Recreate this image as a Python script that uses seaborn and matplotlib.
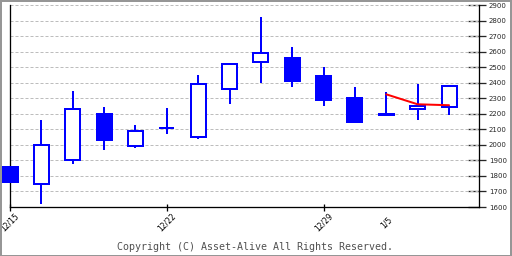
import matplotlib
matplotlib.use("Agg")
import matplotlib.pyplot as plt
import seaborn as sns
import pandas as pd
from matplotlib.patches import Rectangle

# ---- data ----
dates = ['12/15', '12/16', '12/17', '12/18', '12/19', '12/22', '12/23', '12/24',
         '12/25', '12/26', '12/29', '12/30', '1/5', '1/6', '1/7']
opens = [1855, 1750, 1900, 2200, 1990, 2110, 2050, 2360, 2530, 2560, 2440, 2300, 2200, 2230, 2245]
closes = [1760, 2000, 2230, 2030, 2090, 2110, 2390, 2520, 2590, 2410, 2290, 2150, 2190, 2250, 2380]
highs = [1855, 2160, 2345, 2245, 2125, 2235, 2450, 2520, 2820, 2630, 2500, 2370, 2340, 2390, 2380]
lows = [1760, 1620, 1875, 1970, 1980, 2070, 2040, 2260, 2400, 2370, 2250, 2140, 2190, 2160, 2195]
line_dates = ['1/5', '1/6', '1/7']
line_values = [2325, 2261, 2255]
xtick_labels = ['12/15', '12/22', '12/29', '1/5']
ytick_values = [1600, 1700, 1800, 1900, 2000, 2100, 2200, 2300, 2400, 2500, 2600, 2700, 2800, 2900]
copyright_text = "Copyright (C) Asset-Alive All Rights Reserved."

sns.set_style("white")
plt.rcParams['font.family'] = ['DejaVu Sans']
plt.rcParams['lines.scale_dashes'] = False

PX = 0.72  # points per pixel at dpi 100
W, H = 512, 256
fig = plt.figure(figsize=(W / 100, H / 100), dpi=100)
ax = fig.add_axes([10 / W, (H - 207) / H, (479 - 10) / W, (207 - 5) / H])

pos = list(range(len(dates)))
df = pd.DataFrame({'pos': pos, 'date': dates, 'open': opens, 'close': closes,
                   'high': highs, 'low': lows})
blue = '#0000ff'

# grid
for v in ytick_values[1:]:
    ax.axhline(v, color='#bdbdbd', lw=1 * PX, ls=(0, (3 * PX, 2 * PX)), zorder=1)

# wicks and bodies
for _, r in df.iterrows():
    top = max(r['open'], r['close'])
    bot = min(r['open'], r['close'])
    ax.vlines(r['pos'], top, r['high'], color=blue, lw=2 * PX, zorder=3, clip_on=False)
    ax.vlines(r['pos'], r['low'], bot, color=blue, lw=2 * PX, zorder=3, clip_on=False)
    down = r['close'] < r['open']
    ax.bar(r['pos'], top - bot, bottom=bot, width=0.48,
           color=blue if down else 'white', edgecolor=blue,
           linewidth=2 * PX, zorder=4, clip_on=False)

# red line via seaborn
ldf = pd.DataFrame({'pos': [dates.index(d) for d in line_dates], 'value': line_values})
sns.lineplot(data=ldf, x='pos', y='value', ax=ax, color='#ff0000', lw=2 * PX, zorder=5)

ax.set_xlim(0, (479 - 10) / 31.36)
ax.set_ylim(1600, 2900)
ax.set_xlabel('')
ax.set_ylabel('')

# spines
for s in ['left', 'bottom', 'right']:
    ax.spines[s].set_visible(True)
    ax.spines[s].set_color('black')
    ax.spines[s].set_linewidth(1.3 * PX)
ax.spines['top'].set_visible(False)

# x ticks
ax.set_xticks([dates.index(d) for d in xtick_labels])
ax.set_xticklabels(xtick_labels, rotation=45, ha='center', va='center', fontsize=5.5)
ax.tick_params(axis='x', direction='inout', length=7 * PX, width=1.3 * PX,
               pad=12 * PX, colors='black', bottom=True)
ax.xaxis.get_major_ticks()[3].tick1line.set_visible(False)

# y ticks on right
ax.yaxis.tick_right()
ax.set_yticks(ytick_values)
ax.set_yticklabels([str(v) for v in ytick_values], fontsize=5)
ax.tick_params(axis='y', which='major', direction='out', length=7 * PX, width=1.3 * PX,
               pad=3 * PX, left=False, right=True)
ax.yaxis.remove_overlapping_locs = False
ax.set_yticks(ytick_values, minor=True)
ax.tick_params(axis='y', which='minor', direction='in', length=11 * PX, width=1.3 * PX,
               left=False, right=True)

# copyright
fig.text(0.498, 9.5 / H, copyright_text, ha='center', va='center',
         family='DejaVu Sans Mono', fontsize=7.2, color='#505050')

# outer frame
fig.patches.append(Rectangle((0.5 / W, 0.5 / H), 1 - 1.5 / W, 1 - 1.5 / H,
                             transform=fig.transFigure, fill=False,
                             edgecolor='#969696', lw=2 * PX))

fig.savefig('out.png', dpi=100)
